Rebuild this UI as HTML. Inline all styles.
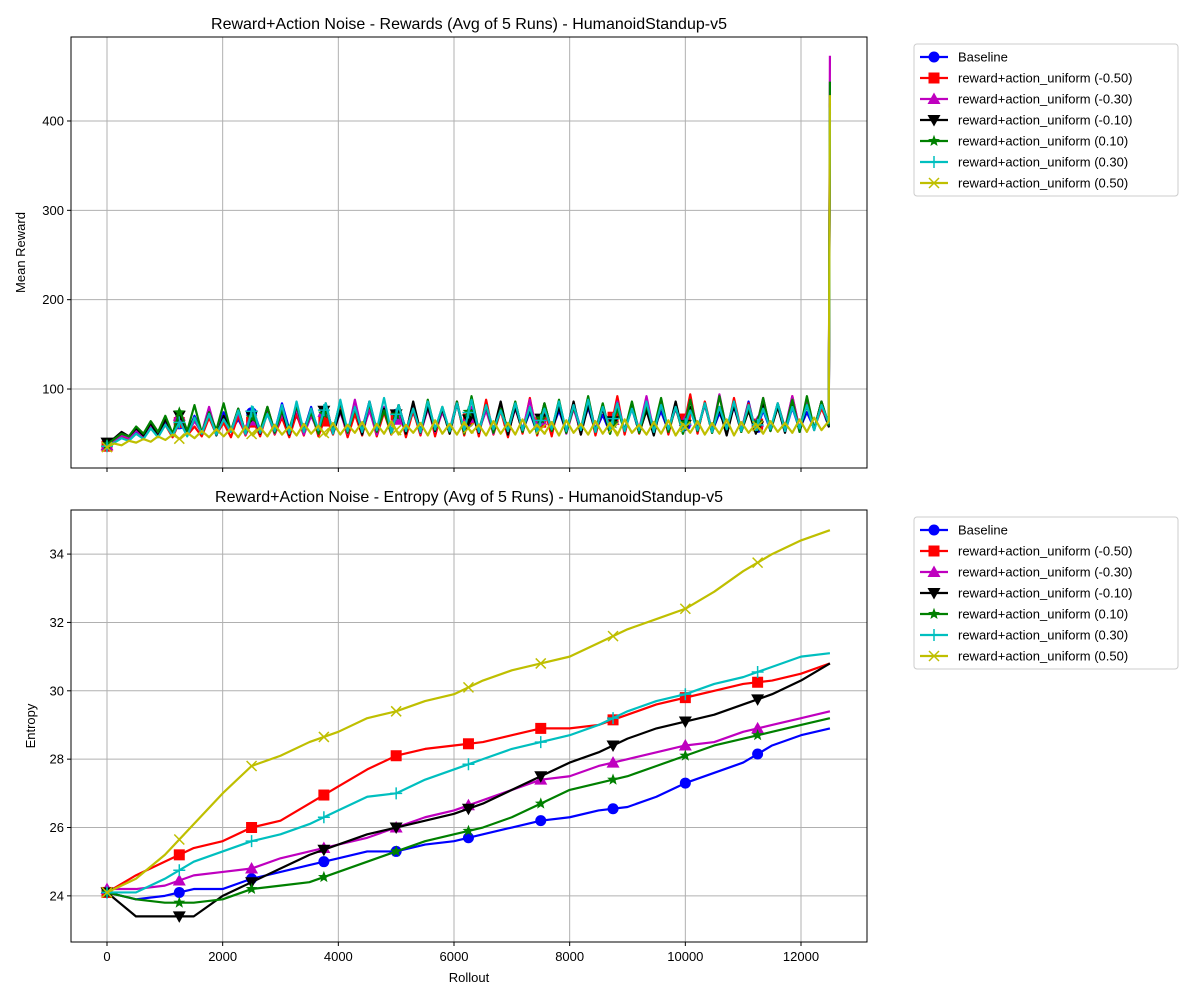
<!DOCTYPE html>
<html><head><meta charset="utf-8"><style>
body{margin:0;background:#fff;}
svg text{font-family:"Liberation Sans","DejaVu Sans",sans-serif;}
</style></head><body>
<svg id="fig" width="1200" height="1000" xmlns="http://www.w3.org/2000/svg">
<rect width="1200" height="1000" fill="#fff"/>
</svg>
<script>
const xTicks=[0,2000,4000,6000,8000,10000,12000];
const rewardYTicks=[100,200,300,400];
const entropyYTicks=[24,26,28,30,32,34];
const seriesNames=["Baseline","reward+action_uniform (-0.50)","reward+action_uniform (-0.30)","reward+action_uniform (-0.10)","reward+action_uniform (0.10)","reward+action_uniform (0.30)","reward+action_uniform (0.50)"];
const rewardBlue=[38,42,47,44,52,46,58,48,64,50,62,49,70,52,68,50,74,53,66,51,78,54,72,52,84,55,70,53,80,51,76,54,83,52,72,55,86,53,78,51,82,54,74,52,80,55,77,53,84,51,72,54,81,52,78,55,85,53,74,51,80,54,76,52,83,55,79,53,71,51,82,54,78,52,86,55,75,53,81,51,77,54,84,52,73,55,80,53,86,51,76,54,82,52,79,55,74,56,80,58,410];
const rewardRed=[36,41,46,43,50,45,56,47,60,46,64,48,58,47,68,49,62,46,70,48,66,47,74,49,68,46,72,48,76,47,70,49,78,46,72,48,80,47,74,49,82,46,76,48,84,47,78,50,86,48,80,47,88,49,76,46,84,50,90,48,78,47,86,51,82,49,88,48,80,52,92,49,84,50,78,51,88,49,82,53,94,50,86,52,80,51,90,53,84,52,88,54,80,53,92,55,84,56,78,62,420];
const rewardMagenta=[37,42,48,45,54,47,60,48,66,50,72,49,64,51,80,50,70,52,74,49,68,51,76,50,72,53,78,49,70,52,82,51,74,50,88,52,76,49,80,53,72,51,84,50,78,52,74,54,86,51,80,53,76,50,82,52,78,54,88,51,80,53,84,50,78,52,90,54,82,51,86,53,80,55,92,52,84,54,78,53,88,55,82,52,94,54,86,53,80,55,90,53,84,56,92,54,88,55,86,60,473];
const rewardBlack=[40,45,52,47,56,48,62,47,66,50,72,52,68,50,74,48,70,53,78,51,74,50,80,52,76,49,82,53,78,51,84,50,76,52,80,49,86,53,78,51,82,50,86,52,80,53,78,50,84,52,76,51,82,53,86,49,80,52,78,50,84,53,80,51,86,49,82,52,78,50,84,53,80,51,76,48,82,52,86,50,80,53,84,51,78,48,82,52,76,50,84,53,80,51,86,52,82,54,86,58,400];
const rewardGreen=[38,44,50,47,58,50,64,52,70,50,76,53,82,51,74,54,84,52,78,50,72,53,80,51,76,55,82,52,74,50,80,53,86,51,78,54,84,52,76,50,82,53,78,51,88,54,80,52,86,50,92,53,82,51,78,55,86,52,80,50,84,53,88,51,80,55,92,52,84,50,78,53,86,51,82,55,90,52,80,50,88,53,84,51,92,55,86,52,80,54,90,53,84,55,88,52,92,55,86,60,444];
const rewardCyan=[36,40,45,42,50,44,56,46,60,48,64,47,68,50,72,49,66,52,76,50,80,51,72,53,82,50,86,52,78,54,84,50,88,53,80,52,86,54,90,51,82,53,78,52,86,55,80,53,84,54,88,52,82,55,76,53,84,54,80,52,78,55,86,53,82,54,88,52,80,55,84,53,78,54,86,52,82,55,80,53,76,54,84,52,80,55,86,53,82,54,78,55,84,53,80,56,82,54,82,62,415];
const rewardYellow=[35,39,37,42,40,44,41,47,43,49,44,51,45,53,46,55,47,56,46,58,48,57,47,60,49,58,48,61,50,59,48,62,49,60,51,63,48,61,50,64,49,60,51,62,48,65,50,61,49,63,51,60,48,64,50,62,49,66,51,60,50,63,48,65,51,61,49,64,50,62,48,66,51,60,49,63,50,65,48,61,51,64,49,62,50,66,48,63,51,61,50,64,52,62,51,66,52,68,54,64,429];
const entBlue=[24.1,23.9,24.0,24.2,24.2,24.5,24.7,24.9,25.1,25.3,25.3,25.5,25.6,25.8,26.0,26.2,26.3,26.5,26.6,26.9,27.3,27.6,27.9,28.4,28.7,28.9];
const entRed=[24.1,24.6,25.0,25.4,25.6,26.0,26.2,26.7,27.2,27.7,28.1,28.3,28.4,28.5,28.7,28.9,28.9,29.0,29.3,29.6,29.8,30.0,30.2,30.3,30.5,30.8];
const entMagenta=[24.2,24.2,24.3,24.6,24.7,24.8,25.1,25.3,25.5,25.7,26.0,26.3,26.5,26.8,27.1,27.4,27.5,27.8,28.0,28.2,28.4,28.5,28.8,29.0,29.2,29.4];
const entBlack=[24.1,23.4,23.4,23.4,24.0,24.4,24.8,25.2,25.5,25.8,26.0,26.2,26.4,26.7,27.1,27.5,27.9,28.2,28.6,28.9,29.1,29.3,29.6,29.9,30.3,30.8];
const entGreen=[24.1,23.9,23.8,23.8,23.9,24.2,24.3,24.4,24.7,25.0,25.3,25.6,25.8,26.0,26.3,26.7,27.1,27.3,27.5,27.8,28.1,28.4,28.6,28.8,29.0,29.2];
const entCyan=[24.1,24.1,24.5,25.0,25.3,25.6,25.8,26.1,26.5,26.9,27.0,27.4,27.7,28.0,28.3,28.5,28.7,29.0,29.4,29.7,29.9,30.2,30.4,30.7,31.0,31.1];
const entYellow=[24.1,24.5,25.2,26.1,27.0,27.8,28.1,28.5,28.8,29.2,29.4,29.7,29.9,30.3,30.6,30.8,31.0,31.4,31.8,32.1,32.4,32.9,33.5,34.0,34.4,34.7];
const xMax=12500;

const NS="http://www.w3.org/2000/svg";
const fig=document.getElementById('fig');
const colors=["#0000ff","#ff0000","#bf00bf","#000000","#008000","#00bfbf","#bfbf00"];
const markers=["circle","square","tri-up","tri-down","star","plus","x"];
const keys=["blue","red","magenta","black","green","cyan","yellow"];
function mk(tag,attrs,parent){const e=document.createElementNS(NS,tag);for(const k in attrs)e.setAttribute(k,attrs[k]);(parent||fig).appendChild(e);return e;}
const X0=71,X1=867;
function sx(v){return 107+(v)*(694/12000);}
function drawMarker(g,type,x,y,c){
  let e;
  if(type==="circle")e=mk('circle',{cx:x,cy:y,r:5.5,fill:c},g);
  else if(type==="square")e=mk('rect',{x:x-5.5,y:y-5.5,width:11,height:11,fill:c},g);
  else if(type==="tri-up")e=mk('polygon',{points:`${x},${y-6.5} ${x-6.5},${y+5} ${x+6.5},${y+5}`,fill:c},g);
  else if(type==="tri-down")e=mk('polygon',{points:`${x},${y+6.5} ${x-6.5},${y-5} ${x+6.5},${y-5}`,fill:c},g);
  else if(type==="star"){let p=[];for(let i=0;i<10;i++){const r=i%2?2.6:6.2,a=-Math.PI/2+i*Math.PI/5;p.push((x+r*Math.cos(a)).toFixed(1)+','+(y+r*Math.sin(a)).toFixed(1));}e=mk('polygon',{points:p.join(' '),fill:c},g);}
  else if(type==="plus")e=mk('path',{d:`M${x-6},${y}H${x+6}M${x},${y-6}V${y+6}`,stroke:c,'stroke-width':1.5},g);
  else e=mk('path',{d:`M${x-5},${y-5}L${x+5},${y+5}M${x-5},${y+5}L${x+5},${y-5}`,stroke:c,'stroke-width':1.5},g);
  return e;
}
function xOf(i,n,spike){ // n = length
  if(!spike)return i*xMax/(n-1);
  if(i===n-1)return xMax;
  return i*(xMax-20)/(n-2);
}
function interp(arr,v,spike){const n=arr.length;for(let i=0;i<n-1;i++){const a=xOf(i,n,spike),b=xOf(i+1,n,spike);if(v>=a&&v<=b){const t=(v-a)/(b-a);return arr[i]*(1-t)+arr[i+1]*t;}}return arr[n-1];}
function panel(name,Y0,Y1,ymin,ymax,yTicks,series,title,ylabel,ylabelX,showX,legY,spike){
  const sy=v=>Y1-(v-ymin)/(ymax-ymin)*(Y1-Y0);
  const g=mk('g',{});
  
  
  const grid=mk('g',{},g);
  
  
  xTicks.forEach(t=>{const x=sx(t);mk('line',{x1:x,x2:x,y1:Y0,y2:Y1,stroke:'#b0b0b0','stroke-width':1},grid);mk('line',{x1:x,x2:x,y1:Y1,y2:Y1+4,stroke:'#000'},g);
    if(showX){const tl=mk('text',{x:x,y:Y1+19,'font-size':13,'text-anchor':'middle'},g);tl.textContent=t;}});
  yTicks.forEach(t=>{const y=sy(t);mk('line',{x1:X0,x2:X1,y1:y,y2:y,stroke:'#b0b0b0','stroke-width':1},grid);mk('line',{x1:X0-4,x2:X0,y1:y,y2:y,stroke:'#000'},g);
    const tl=mk('text',{x:X0-7,y:y+4.5,'font-size':13,'text-anchor':'end'},g);tl.textContent=t;});
  const clip=mk('clipPath',{id:'clip-'+name},g);mk('rect',{x:X0,y:Y0,width:X1-X0,height:Y1-Y0},clip);
  const plot=mk('g',{'clip-path':`url(#clip-${name})`},g);
  series.forEach((arr,si)=>{
    const n=arr.length;
    const d=arr.map((v,i)=>(i?'L':'M')+sx(xOf(i,n,spike)).toFixed(2)+','+sy(v).toFixed(2)).join('');
    const sg=mk('g',{},plot);
    
    
    const p=mk('path',{d:d,fill:'none',stroke:colors[si],'stroke-width':2.2,'stroke-linejoin':'round'},sg);
    
    
    for(let v=0;v<xMax;v+=1250){
      const m=drawMarker(sg,markers[si],sx(v),sy(interp(arr,v,spike)),colors[si]);
      
      
    }
  });
  const fr=mk('rect',{x:X0,y:Y0,width:X1-X0,height:Y1-Y0,fill:'none',stroke:'#000','stroke-width':1},g);
  
  
  const tt=mk('text',{x:469,y:Y0-8,'font-size':16,'text-anchor':'middle'},g);tt.textContent=title;
  
  
  const yl=mk('text',{x:0,y:0,'font-size':13,'text-anchor':'middle',transform:`translate(${ylabelX},${(Y0+Y1)/2}) rotate(-90)`},g);yl.textContent=ylabel;
  
  
  const lg=mk('g',{},g);
  
  
  mk('rect',{x:914,y:legY,width:264,height:152,rx:3,fill:'#fff',stroke:'#cccccc'},lg);
  seriesNames.forEach((s,i)=>{
    const y=legY+13+i*21;
    const e=mk('g',{},lg);
    
    
    mk('line',{x1:920,x2:948,y1:y,y2:y,stroke:colors[i],'stroke-width':2.2},e);
    drawMarker(e,markers[i],934,y,colors[i]);
    const t=mk('text',{x:958,y:y+4.5,'font-size':13},e);t.textContent=s;
  });
}
panel('rewards',37,468,11.6,494,rewardYTicks,[rewardBlue,rewardRed,rewardMagenta,rewardBlack,rewardGreen,rewardCyan,rewardYellow],'Reward+Action Noise - Rewards (Avg of 5 Runs) - HumanoidStandup-v5','Mean Reward',25,false,44,true);
panel('entropy',510,942,22.65,35.29,entropyYTicks,[entBlue,entRed,entMagenta,entBlack,entGreen,entCyan,entYellow],'Reward+Action Noise - Entropy (Avg of 5 Runs) - HumanoidStandup-v5','Entropy',35,true,517,false);
const xl=mk('text',{x:469,y:982,'font-size':13,'text-anchor':'middle'});xl.textContent='Rollout';


</script>
</body></html>
